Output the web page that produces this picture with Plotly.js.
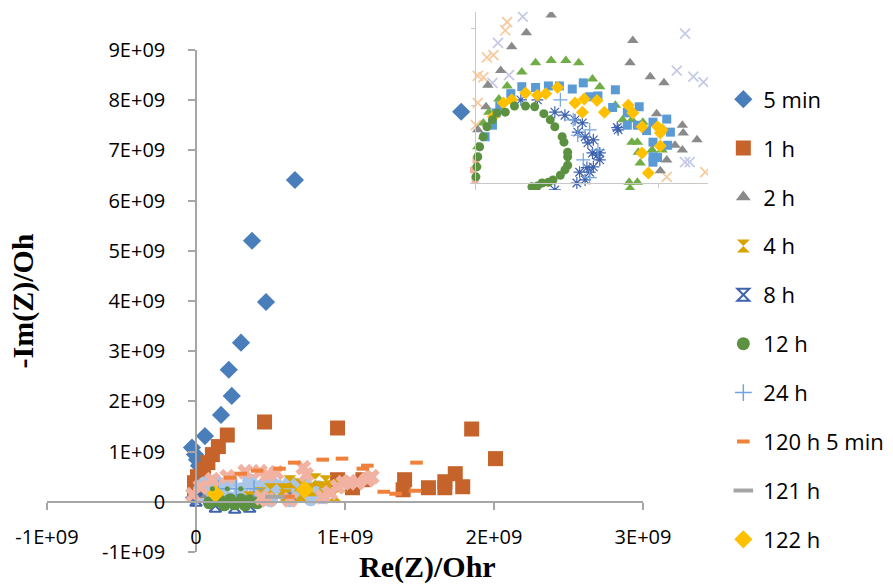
<!DOCTYPE html>
<html>
<head>
<meta charset="utf-8">
<script src="https://cdn.plot.ly/plotly-3.0.1.min.js"></script>
<style>html,body{margin:0;padding:0;background:#fff;overflow:hidden;}#chart{width:893px;height:585px;}</style>
</head>
<body>
<div id="chart"></div>
<script>
// ---------- axis ticks ----------
const xTickVals = [-1e9, 0, 1e9, 2e9, 3e9];
const xTickText = ['-1E+09', '0', '1E+09', '2E+09', '3E+09'];
const yTickVals = [-1e9, 0, 1e9, 2e9, 3e9, 4e9, 5e9, 6e9, 7e9, 8e9, 9e9];
const yTickText = ['-1E+09', '0', '1E+09', '2E+09', '3E+09', '4E+09', '5E+09', '6E+09', '7E+09', '8E+09', '9E+09'];

// ---------- main chart series (Ohm) ----------
const min5_re = [1.78e9, 0.664e9, 0.376e9, 0.47e9, 0.302e9, 0.22e9, 0.24e9, 0.168e9, 0.06e9, -0.027e9, -0.007e9, 0.007e9, 0.02e9, 0.0e9, -0.013e9];
const min5_im = [7.77e9, 6.41e9, 5.2e9, 3.98e9, 3.17e9, 2.63e9, 2.11e9, 1.73e9, 1.31e9, 1.08e9, 0.94e9, 0.84e9, 0.72e9, 0.24e9, 0.08e9];

const h1_re = [0.46e9, 0.95e9, 1.85e9, 2.01e9, 1.74e9, 1.79e9, 1.67e9, 1.67e9, 1.56e9, 1.40e9, 1.39e9, 0.21e9, 0.15e9, 0.11e9, 0.08e9, 0.05e9, 0.01e9, -0.01e9, 0.95e9, 1.05e9, 1.12e9, -0.01e9];
const h1_im = [1.59e9, 1.47e9, 1.45e9, 0.86e9, 0.56e9, 0.30e9, 0.40e9, 0.28e9, 0.28e9, 0.44e9, 0.24e9, 1.33e9, 1.10e9, 0.94e9, 0.78e9, 0.64e9, 0.50e9, 0.38e9, 0.44e9, 0.28e9, 0.44e9, 0.20e9];

const h2_re = [0.63e9, 0.03e9];
const h2_im = [0.10e9, 0.14e9];

const h4_re = [0.58e9, 0.63e9, 0.70e9, 0.77e9, 0.83e9, 0.90e9, 0.97e9, 0.70e9, 0.60e9, 0.43e9, 0.50e9, 0.36e9, 0.80e9, 0.87e9, 0.93e9];
const h4_im = [0.24e9, 0.40e9, 0.34e9, 0.24e9, 0.28e9, 0.30e9, 0.32e9, 0.14e9, 0.12e9, 0.16e9, 0.24e9, 0.08e9, 0.44e9, 0.40e9, 0.14e9];

const h8_re = [0.13e9, 0.26e9, 0.36e9, 0.0e9];
const h8_im = [-0.08e9, -0.10e9, -0.08e9, 0.04e9];

const h12_re = [0.09e9, 0.16e9, 0.23e9, 0.30e9, 0.36e9, 0.41e9, 0.33e9, 0.19e9, 0.26e9];
const h12_im = [-0.02e9, 0.02e9, 0.04e9, 0.04e9, 0.02e9, -0.02e9, -0.06e9, -0.06e9, -0.04e9];

const h24_re = [0.15e9, 0.27e9, 0.39e9];
const h24_im = [0.26e9, 0.26e9, 0.26e9];

const h120_re = [0.30e9, 0.41e9, 0.56e9, 0.66e9, 0.85e9, 0.98e9, 1.12e9, 1.15e9, 1.26e9, 1.34e9, 1.48e9, 1.47e9, 0.62e9, 0.23e9];
const h120_im = [0.56e9, 0.62e9, 0.66e9, 0.78e9, 0.84e9, 0.86e9, 0.66e9, 0.72e9, 0.20e9, 0.16e9, 0.78e9, 0.22e9, 0.10e9, 0.48e9];

const h121_re = [0.53e9];
const h121_im = [0.10e9];

const h122_re = [0.73e9, 0.13e9];
const h122_im = [0.24e9, 0.16e9];

// series drawn without legend entry
const lightBlue_re = [0.03e9, 0.06e9, 0.13e9, 0.23e9, 0.36e9, 0.50e9, 0.63e9, 0.73e9, 0.82e9, 0.87e9, 0.85e9, 0.77e9, 0.63e9, 0.50e9, 0.36e9, 0.23e9, 0.11e9, 0.04e9, 0.30e9, 0.50e9, 0.70e9, 0.16e9, 0.40e9, 0.60e9, 0.08e9, 0.20e9, 0.45e9, 0.55e9, 0.67e9, 0.78e9];
const lightBlue_im = [0.24e9, 0.36e9, 0.40e9, 0.42e9, 0.42e9, 0.40e9, 0.38e9, 0.34e9, 0.28e9, 0.20e9, 0.10e9, 0.06e9, 0.04e9, 0.04e9, 0.04e9, 0.06e9, 0.08e9, 0.12e9, 0.24e9, 0.24e9, 0.20e9, 0.24e9, 0.18e9, 0.14e9, 0.30e9, 0.34e9, 0.32e9, 0.30e9, 0.28e9, 0.18e9];

const greenDots_re = [0.11e9, 0.21e9, 0.30e9];
const greenDots_im = [0.26e9, 0.26e9, 0.26e9];

const pink_re = [-0.02e9, 0.03e9, 0.11e9, 0.21e9, 0.33e9, 0.43e9, 0.48e9, 0.54e9, 0.72e9, 0.74e9, 0.44e9, 0.48e9, 0.63e9, 0.85e9, 0.90e9, 0.95e9, 0.99e9, 1.03e9, 1.08e9, 1.15e9, 1.18e9];
const pink_im = [0.14e9, 0.30e9, 0.44e9, 0.50e9, 0.60e9, 0.60e9, 0.54e9, 0.58e9, 0.68e9, 0.54e9, 0.08e9, 0.04e9, 0.04e9, 0.10e9, 0.18e9, 0.30e9, 0.38e9, 0.40e9, 0.38e9, 0.44e9, 0.50e9];

// ---------- inset (zoomed view, values in MOhm) ----------
const in2h_re = [83, 56, 40, 28, 14, 12, 172, 169, 191, 206, 198, 226, 227, 242, 218, 226, 209, 202, 3];
const in2h_im = [218, 195, 177, 146, 127, 99, 185, 156, 138, 130, 90, 75, 65, 56, 49, 43, 30, 16, 69];

const inGreenTri_re = [66, 83, 99, 113, 51, 128, 35, 26, 15, 9, 9, 3, 136, 153, 161, 171, 183, 171, 177, 178, 193, 204, 180, 168, 177, 169];
const inGreenTri_im = [156, 159, 159, 156, 144, 135, 126, 109, 92, 78, 60, 47, 125, 101, 82, 82, 79, 53, 53, 40, 43, 43, 26, 1, 1, -7];

const inBlueSq_re = [51, 66, 80, 92, 106, 118, 153, 125, 134, 39, 27, 23, 19, 11, 150, 166, 179, 168, 166, 177, 194, 209, 187, 213, 194, 210, 194, 199, 194];
const inBlueSq_im = [125, 124, 126, 126, 122, 130, 121, 112, 113, 116, 100, 91, 75, 60, 98, 92, 99, 91, 75, 75, 79, 83, 68, 66, 53, 49, 34, 33, 27];

const in122_re = [55, 68, 77, 90, 109, 119, 133, 167, 117, 141, 172, 182, 199, 202, 204, 202, 182, 189, 40, 31, 20];
const in122_im = [117, 114, 116, 124, 104, 109, 107, 101, 92, 92, 91, 73, 73, 65, 69, 48, 39, 13, 108, 104, 86];

const in12_re = [1, 2, 3, 5, 9, 13, 19, 24, 33, 43, 55, 65, 75, 82, 87, 95, 97, 101, 101, 101, 98, 93, 85, 80, 73, 68, 62];
const in12_im = [8, 21, 34, 47, 60, 73, 82, 91, 92, 100, 100, 99, 90, 82, 73, 60, 53, 40, 34, 23, 17, 10, 4, 1, 0, -4, -5];

const in8_re = [87, 98, 109, 117, 112, 120, 123, 128, 114, 122, 125, 120, 111, 129, 133, 136, 136, 129, 155, 156, 50, 68, 87];
const in8_im = [92, 88, 82, 78, 66, 60, 52, 39, 14, 20, 14, 4, 0, 21, 36, 30, 39, 56, 72, 69, 108, 108, -9];

const in24_re = [93, 107, 112, 125, 125, 118, 134];
const in24_im = [108, 82, 62, 69, 7, 30, 43];

const inLavender_re = [52, 25, 37, 19, 229, 220, 238, 249, 229, 234];
const inLavender_im = [216, 182, 140, 130, 194, 146, 138, 131, 27, 27];

const inPeach_re = [35, 33, 20, 13, 9, 3, 3, 1, 209, 251];
const inPeach_im = [209, 198, 166, 163, 137, 139, 104, 75, 8, 14];

const inPink_re = [-2, 0, 1];
const inPink_im = [17, 4, 30];

// ---------- traces ----------
function sc(name, x, y, marker, show, axes) {
  const t = {type: 'scatter', mode: 'markers', name: name, x: x, y: y, marker: marker,
             showlegend: show, legendgroup: name, hoverinfo: 'x+y+name', cliponaxis: true};
  if (axes) { t.xaxis = 'x2'; t.yaxis = 'y2'; }
  return t;
}
const C = {
  min5: '#4A7EBB', h1: '#C5632B', h2: '#8A8A8A', h4: '#D9A400', h8: '#3E62AE',
  h12: '#5B9140', h24: '#72A4DE', h120: '#F0803A', h121: '#A5A5A5', h122: '#FFC000',
  lightBlue: '#A9C5E8', pink: '#F2B2A2', greenTri: '#70AD47', blueSq: '#5B9BD5',
  lavender: '#C5CBE6', peach: '#F6CBA0'
};

const data = [
  sc('5 min', min5_re, min5_im, {symbol: 'diamond', size: 14, color: C.min5}, true),
  sc('1 h', h1_re, h1_im, {symbol: 'square', size: 15, color: C.h1}, true),
  sc('lb', lightBlue_re, lightBlue_im, {symbol: 'circle', size: 15, color: C.lightBlue}, false),
  sc('2 h', h2_re, h2_im, {symbol: 'triangle-up', size: 13, color: C.h2}, true),
  sc('4 h', h4_re, h4_im, {symbol: 'hourglass', size: 13, color: C.h4}, true),
  sc('8 h', h8_re, h8_im, {symbol: 'hourglass-open', size: 12, color: C.h8, line: {color: C.h8, width: 2}}, true),
  sc('12 h', h12_re, h12_im, {symbol: 'circle', size: 13, color: C.h12}, true),
  sc('24 h', h24_re, h24_im, {symbol: 'cross-thin-open', size: 12, color: C.h24, line: {color: C.h24, width: 1.5}}, true),
  sc('px', pink_re, pink_im, {symbol: 'x', size: 14, color: C.pink}, false),
  sc('120 h 5 min', h120_re, h120_im, {symbol: 'line-ew-open', size: 9, color: C.h120, line: {color: C.h120, width: 4}}, true),
  sc('121 h', h121_re, h121_im, {symbol: 'line-ew-open', size: 14, color: C.h121, line: {color: C.h121, width: 4}}, true),
  sc('122 h', h122_re, h122_im, {symbol: 'diamond', size: 14, color: C.h122}, true),
  sc('gd', greenDots_re, greenDots_im, {symbol: 'circle', size: 5, color: C.h12}, false),
  // inset
  sc('i-lav', inLavender_re, inLavender_im, {symbol: 'x-thin-open', size: 10, color: C.lavender, line: {color: C.lavender, width: 1.8}}, false, true),
  sc('i-peach', inPeach_re, inPeach_im, {symbol: 'x-thin-open', size: 10, color: C.peach, line: {color: C.peach, width: 1.8}}, false, true),
  sc('i-pink', inPink_re, inPink_im, {symbol: 'square', size: 7, color: C.pink}, false, true),
  sc('i-2h', in2h_re, in2h_im, {symbol: 'triangle-up', size: 10, color: C.h2}, false, true),
  sc('i-gt', inGreenTri_re, inGreenTri_im, {symbol: 'triangle-up', size: 10, color: C.greenTri}, false, true),
  sc('i-8h', in8_re, in8_im, {symbol: 'asterisk-open', size: 10, color: C.h8, line: {color: '#5B7FC0', width: 1.2}}, false, true),
  sc('i-24h', in24_re, in24_im, {symbol: 'cross-thin-open', size: 10, color: C.h24, line: {color: C.h24, width: 1.2}}, false, true),
  sc('i-bs', inBlueSq_re, inBlueSq_im, {symbol: 'square', size: 9, color: C.blueSq}, false, true),
  sc('i-122', in122_re, in122_im, {symbol: 'diamond', size: 10, color: C.h122}, false, true),
  sc('i-12h', in12_re, in12_im, {symbol: 'circle', size: 9, color: C.h12}, false, true)
];

const axisGray = '#A6A6A6';
const layout = {
  width: 893, height: 585,
  margin: {l: 47, r: 173, t: 10, b: 33, pad: 0},
  paper_bgcolor: '#ffffff', plot_bgcolor: 'rgba(0,0,0,0)',
  showlegend: true,
  font: {family: 'Open Sans, sans-serif', color: '#000'},
  xaxis: {
    domain: [0, 0.8856], range: [-1e9, 3e9], anchor: 'free', position: 0.0926,
    showline: true, linecolor: axisGray, linewidth: 1.5, showgrid: false, zeroline: false,
    ticks: 'outside', ticklen: 7, tickcolor: axisGray, tickwidth: 1.5,
    tickvals: xTickVals, ticktext: xTickText, ticklabelstandoff: 10,
    tickfont: {family: 'Open Sans, sans-serif', size: 20, color: '#000'},
    title: {text: ''}
  },
  yaxis: {
    domain: [0, 0.9262], range: [-1e9, 9e9], anchor: 'free', position: 0.2214,
    showline: true, linecolor: axisGray, linewidth: 1.5, showgrid: false, zeroline: false,
    ticks: 'outside', ticklen: 7, tickcolor: axisGray, tickwidth: 1.5,
    tickvals: yTickVals, ticktext: yTickText, ticklabelstandoff: 19,
    tickfont: {family: 'Open Sans, sans-serif', size: 20, color: '#000'},
    title: {text: '-Im(Z)/Oh', font: {family: 'Liberation Serif, serif', size: 30, color: '#000', weight: 'bold'}, standoff: 58}
  },
  xaxis2: {
    domain: [0.6285, 0.9822], range: [-5.5, 254], anchor: 'free', position: 0.6808,
    showline: true, linecolor: '#C8C8C8', linewidth: 1, showgrid: false, zeroline: false,
    ticks: 'outside', ticklen: 4, tickcolor: '#C8C8C8', tickvals: [200], showticklabels: false
  },
  yaxis2: {
    domain: [0.6679, 0.9963], range: [-9.1, 222], anchor: 'free', position: 0.636,
    showline: true, linecolor: '#C8C8C8', linewidth: 1, showgrid: false, zeroline: false,
    ticks: 'outside', ticklen: 4, tickcolor: '#C8C8C8', tickvals: [100, 200], showticklabels: false
  },
  annotations: [{
    text: 'Re(Z)/Ohr', xref: 'paper', yref: 'paper', x: 0.566, y: 0.008,
    xanchor: 'center', yanchor: 'top', showarrow: false,
    font: {family: 'Liberation Serif, serif', size: 30, color: '#000', weight: 'bold'}
  }],
  legend: {
    xref: 'container', yref: 'container', x: 0.81, y: 0.866, xanchor: 'left', yanchor: 'top',
    font: {family: 'Open Sans, sans-serif', size: 22, color: '#000'},
    traceorder: 'grouped', tracegroupgap: 17.3, itemwidth: 30, bgcolor: 'rgba(0,0,0,0)',
    itemsizing: 'trace', maxheight: 1
  }
};

Plotly.newPlot('chart', data, layout, {displayModeBar: false, responsive: false});
</script>
</body>
</html>
